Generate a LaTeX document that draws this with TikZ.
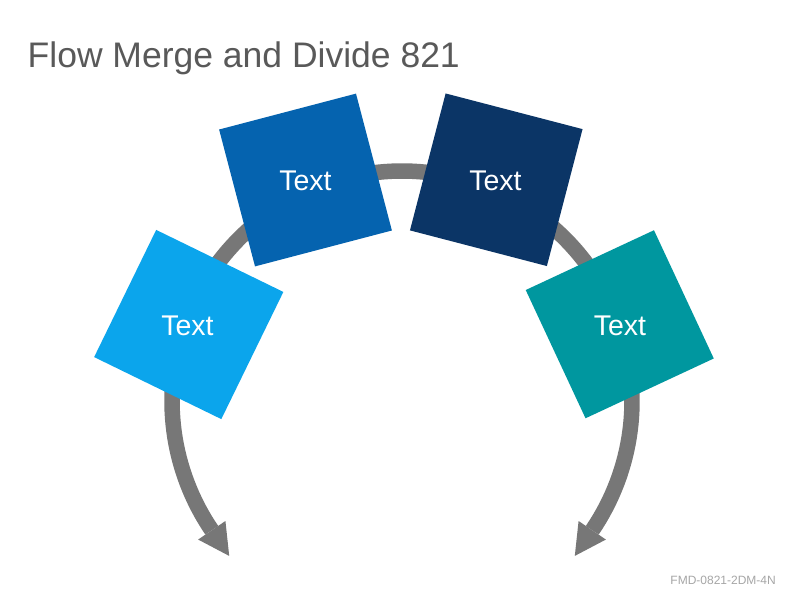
\documentclass[tikz,border=0pt]{standalone}
\usepackage{fontspec}
\setmainfont{Liberation Sans}
\usetikzlibrary{calc}
\definecolor{arcgray}{HTML}{777777}
\definecolor{sqA}{HTML}{0BA5EC}
\definecolor{sqB}{HTML}{0563AF}
\definecolor{sqC}{HTML}{0B3566}
\definecolor{sqD}{HTML}{00979F}
\definecolor{titlegray}{HTML}{595959}
\definecolor{codegray}{HTML}{A6A6A6}
\begin{document}
\begin{tikzpicture}[x=1pt,y=-1pt,
  tile/.style={draw=none, minimum width=141.5pt, minimum height=141.5pt, inner sep=0pt, outer sep=0pt},
  tiletext/.style={text=white, inner sep=0pt, font=\fontsize{28.5}{32}\selectfont},
  flowline/.style={draw=arcgray, line width=15.5pt},
  flowhead/.style={fill=arcgray, draw=none}
]
\fill[white] (0,0) rectangle (800,600);
\useasboundingbox (0,0) rectangle (800,600);

% title and code
\node[anchor=base west, text=titlegray, inner sep=0pt, font=\fontsize{35.5}{40}\selectfont] (title) at (27.5,67) {Flow Merge and Divide 821};
\node[anchor=base east, text=codegray, inner sep=0pt, font=\fontsize{12}{14}\selectfont] (code) at (776,584) {FMD-0821-2DM-4N};

% the arc with two arrowheads
\coordinate (C) at (402,401);
\path[flowline] plot[domain=145.8:394.2, samples=150] ({402+230*cos(\x)},{401+230*sin(\x)});
\coordinate (LB) at ($(C)+(145.8:230)$);
\coordinate (RB) at ($(C)+(34.2:230)$);
\fill[flowhead] ($(LB)+(145.8:16.5)$) -- ($(LB)+(55.8:31)$) -- ($(LB)+(325.8:16.5)$) -- cycle;
\fill[flowhead] ($(RB)+(34.2:16.5)$) -- ($(RB)+(124.2:31)$) -- ($(RB)+(214.2:16.5)$) -- cycle;

% tiles
\node[tile, fill=sqA, rotate=-26] (s1) at (188.75,324.5) {};
\node[tile, fill=sqB, rotate=14.7] (s2) at (305.5,180) {};
\node[tile, fill=sqC, rotate=-14.6] (s3) at (496.25,179.75) {};
\node[tile, fill=sqD, rotate=25] (s4) at (619.75,324.25) {};

% texts
\node[tiletext] (t1) at (187.5,326) {Text};
\node[tiletext] (t2) at (305.5,181) {Text};
\node[tiletext] (t3) at (495.5,181) {Text};
\node[tiletext] (t4) at (620,326) {Text};
\end{tikzpicture}
\end{document}
